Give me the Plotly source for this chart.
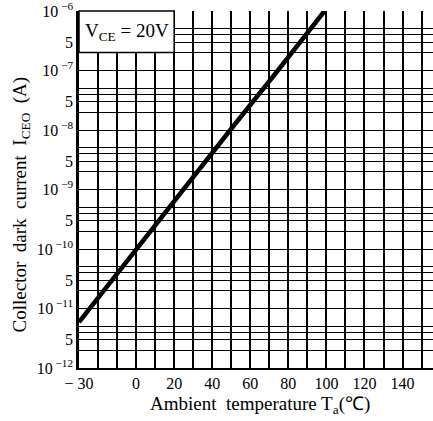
import plotly.graph_objects as go

# Data
temperature_c = [-30, 0, 25, 50, 75, 99]
dark_current_a = [5.9e-12, 1.0e-10, 1.0e-9, 1.05e-8, 1.05e-7, 1.0e-6]

x_tick_vals = list(range(-30, 151, 10))
x_tick_text = ["\u2212 30", "", "", "0", "", "20", "", "40", "", "60", "", "80", "", "100", "", "120", "", "140", ""]

decades = [-12, -11, -10, -9, -8, -7, -6]
y_tick_vals = []
y_tick_text = []
for d in decades:
    y_tick_vals.append(10.0 ** d)
    y_tick_text.append("10<sup> \u2212%d</sup>" % (-d))
    if d < -6:
        for m in (2, 3, 4, 5):
            y_tick_vals.append(m * 10.0 ** d)
            y_tick_text.append("5" if m == 3 else "")

condition_text = "V<sub>CE</sub> = 20V"
x_title = "Ambient  temperature T<sub>a</sub>(\u2103)"
y_title = "Collector  dark  current  I<sub>CEO</sub>  (A)"

serif = "Liberation Serif, Times New Roman, serif"

fig = go.Figure()
fig.add_trace(go.Scatter(
    x=temperature_c, y=dark_current_a, mode="lines",
    line=dict(color="black", width=4.5), showlegend=False, hoverinfo="skip"))

fig.update_layout(
    width=433, height=421,
    margin=dict(l=79, r=0, t=11, b=53),
    paper_bgcolor="white", plot_bgcolor="white",
    font=dict(family=serif, size=16, color="black"),
    xaxis=dict(
        range=[-30, 156], tickmode="array", tickvals=x_tick_vals, ticktext=x_tick_text,
        showgrid=True, gridcolor="black", gridwidth=1.5,
        showline=True, linecolor="black", linewidth=2, ticks="",
        zeroline=False, tickfont=dict(size=16), ticklabeloverflow="allow",
    ),
    yaxis=dict(
        type="log", range=[-12, -6], tickmode="array", tickvals=y_tick_vals, ticktext=y_tick_text,
        showgrid=True, gridcolor="black", gridwidth=1.3,
        showline=True, linecolor="black", linewidth=2.5, ticks="",
        zeroline=False, tickfont=dict(size=16), ticklabeloverflow="allow",
    ),
)

# axis titles
fig.add_annotation(xref="paper", yref="paper", x=0.51, y=-0.104, text=x_title,
                   showarrow=False, font=dict(size=19, family=serif),
                   xanchor="center", yanchor="middle")
fig.add_annotation(xref="paper", yref="paper", x=-0.165, y=0.457, text=y_title,
                   showarrow=False, font=dict(size=19, family=serif), textangle=-90,
                   xanchor="center", yanchor="middle")

# condition box (covers grid in upper-left corner)
box_bottom = (12 - 6.699) / 6
fig.add_shape(type="rect", xref="paper", yref="paper",
              x0=0, x1=(20 + 30) / 186, y0=box_bottom, y1=1.0,
              fillcolor="white", line=dict(color="black", width=1.5), layer="above")
fig.add_annotation(xref="paper", yref="paper", x=25 / 186, y=(1.0 + box_bottom) / 2,
                   text=condition_text, showarrow=False, font=dict(size=19, family=serif),
                   xanchor="center", yanchor="middle")

fig.write_html("out.html")
